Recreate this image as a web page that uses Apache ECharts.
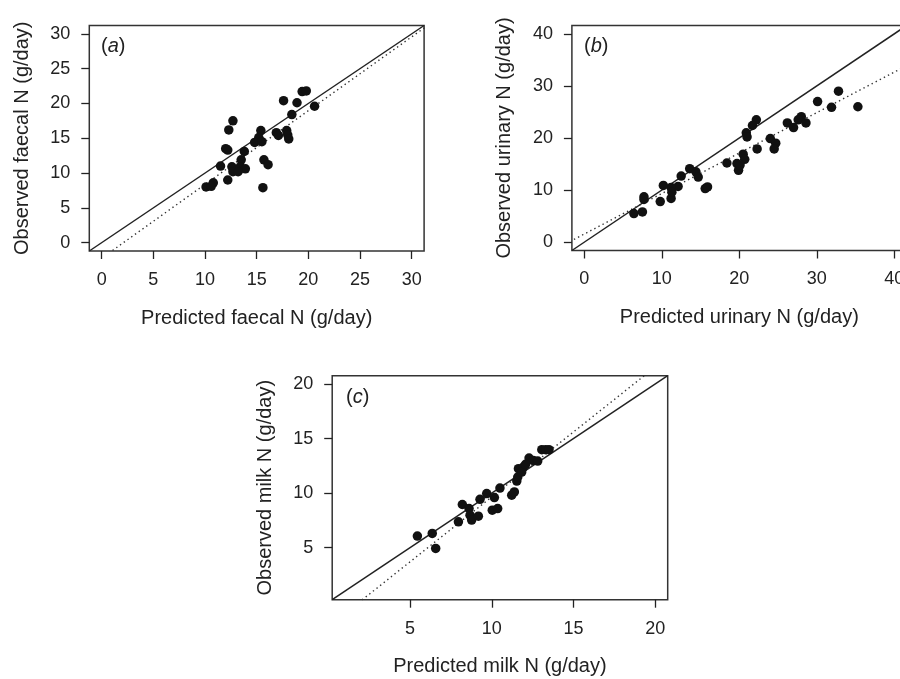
<!DOCTYPE html>
<html>
<head>
<meta charset="utf-8">
<script src="https://cdn.jsdelivr.net/npm/echarts@6/dist/echarts.min.js"></script>
<style>html,body{margin:0;padding:0;background:#fff;}#c{width:900px;height:679px;}</style>
</head>
<body>
<div id="c"></div>
<script>
// ---- Data ----
const faecalPred = [19.4,19.8,17.6,18.9,20.6,18.4,12.7,12.3,15.4,16.9,17.1,17.9,18.0,18.1,15.2,14.8,15.5,12.0,12.2,13.8,13.5,15.7,16.1,11.5,12.6,12.7,13.4,13.9,13.2,12.2,10.8,10.1,10.6,15.6];
const faecalObs  = [21.7,21.8,20.4,20.1,19.6,18.4,17.5,16.2,16.1,15.8,15.4,16.1,15.5,14.9,15.1,14.4,14.5,13.5,13.3,13.1,11.9,11.9,11.2,11.0,10.9,10.2,10.9,10.6,10.2,9.0,8.6,8.0,8.1,7.9];

const urinaryPred = [32.8,30.1,31.9,35.3,26.2,27.0,28.0,27.6,28.6,22.2,21.7,20.9,21.0,24.0,24.7,24.5,22.3,20.5,20.7,19.7,18.4,19.9,20.1,13.6,14.4,14.7,12.5,12.1,11.2,10.2,11.2,9.8,7.7,7.7,6.4,7.5,15.6,15.9,11.3];
const urinaryObs  = [29.0,27.0,25.9,26.0,22.9,22.0,24.1,23.5,22.9,23.5,22.4,21.0,20.2,19.9,19.0,17.9,17.9,16.9,15.9,15.1,15.2,13.8,14.8,14.1,13.5,12.5,12.7,10.7,10.5,10.9,8.4,7.8,8.7,8.2,5.5,5.8,10.3,10.6,9.6];

const milkPred = [5.45,6.36,6.57,7.96,8.2,8.61,8.67,8.77,9.18,9.28,9.69,10.16,10.5,10.03,10.36,11.22,11.38,11.53,11.59,11.63,11.93,11.83,12.28,12.54,12.81,13.06,13.3,13.5,12.07];
const milkObs  = [6.07,6.31,4.94,7.37,8.96,8.59,7.98,7.53,7.89,9.44,9.96,9.6,10.47,8.44,8.59,9.81,10.11,11.11,11.48,12.24,12.39,11.93,13.21,13.0,12.94,13.98,13.98,13.98,12.64];

// regression (dotted) lines: [intercept, slope]
const faecalFit  = [-2.23, 1.06];
const urinaryFit = [1.57, 0.777];
const milkFit    = [-2.24, 1.19];

// axis ranges and tick labels
const faecalRange = [-1.2, 31.2];
const urinaryRange = [-1.6, 41.6];
const milkRange = [0.24, 20.76];
const faecalTicks = [0,5,10,15,20,25,30];
const urinaryTicks = [0,10,20,30,40];
const milkTicks = [5,10,15,20];

const panelLabels = ['a','b','c'];
const xNames = ['Predicted faecal N (g/day)','Predicted urinary N (g/day)','Predicted milk N (g/day)'];
const yNames = ['Observed faecal N (g/day)','Observed urinary N (g/day)','Observed milk N (g/day)'];

// ---- Build ----
const FONT = "'Liberation Sans', Arial, Helvetica, sans-serif";
const INK = '#222';
const panels = [
  {px: faecalPred, py: faecalObs, fit: faecalFit, range: faecalRange, ticks: faecalTicks},
  {px: urinaryPred, py: urinaryObs, fit: urinaryFit, range: urinaryRange, ticks: urinaryTicks},
  {px: milkPred, py: milkObs, fit: milkFit, range: milkRange, ticks: milkTicks}
];
const grids = [
  {left: 89.3, top: 25.5, width: 334.8, height: 225.5},
  {left: 571.9, top: 25.5, width: 334.8, height: 225},
  {left: 332.2, top: 375.7, width: 335.5, height: 224}
];
const labelPos = [[101, 36], [584, 36], [346, 387]];

function axis(gi, p, name, isX) {
  return {
    type: 'value', gridIndex: gi, min: p.range[0], max: p.range[1],
    name: name, nameLocation: 'middle', nameGap: 57,
    nameTextStyle: {fontFamily: FONT, fontSize: 20, color: INK},
    axisLine: {show: false, onZero: false},
    splitLine: {show: false},
    axisTick: {show: true, inside: false, length: 8, customValues: p.ticks, lineStyle: {color: INK, width: 1.3}},
    axisLabel: {show: true, customValues: p.ticks, margin: isX ? 20 : 19, fontFamily: FONT, fontSize: 18, color: INK,
      hideOverlap: false, showMinLabel: true, showMaxLabel: true}
  };
}

const xAxis = [], yAxis = [], series = [], title = [];
panels.forEach((p, i) => {
  xAxis.push(axis(i, p, xNames[i], true));
  yAxis.push(axis(i, p, yNames[i], false));
  const pts = p.px.map((x, k) => [x, p.py[k]]);
  series.push({type: 'scatter', xAxisIndex: i, yAxisIndex: i, data: pts, symbol: 'circle', symbolSize: 9.5,
    itemStyle: {color: '#111', opacity: 1}, silent: true, z: 3});
  const r = p.range;
  series.push({type: 'line', xAxisIndex: i, yAxisIndex: i, data: [[r[0], r[0]], [r[1], r[1]]],
    symbol: 'none', clip: true, silent: true, lineStyle: {color: INK, width: 1.5, type: 'solid'}, z: 2});
  series.push({type: 'line', xAxisIndex: i, yAxisIndex: i,
    data: [[r[0] - 5, p.fit[0] + p.fit[1] * (r[0] - 5)], [r[1] + 5, p.fit[0] + p.fit[1] * (r[1] + 5)]],
    symbol: 'none', clip: true, silent: true, lineStyle: {color: '#333', width: 1.4, type: [1.4, 3.2]}, z: 2});
  title.push({text: '{n|(}{i|' + panelLabels[i] + '}{n|)}', left: labelPos[i][0], top: labelPos[i][1], padding: 0,
    textStyle: {fontWeight: 'normal', rich: {
      n: {fontFamily: FONT, fontSize: 20, fontWeight: 'normal', color: INK},
      i: {fontFamily: FONT, fontSize: 20, fontWeight: 'normal', fontStyle: 'italic', color: INK}}}});
});

const chart = echarts.init(document.getElementById('c'), null, {renderer: 'canvas'});
chart.setOption({
  backgroundColor: '#fff',
  animation: false,
  title: title,
  grid: grids.map(g => Object.assign({show: true, borderColor: '#333', borderWidth: 1.5, backgroundColor: 'transparent',
    containLabel: false, outerBoundsMode: 'none'}, g)),
  xAxis: xAxis,
  yAxis: yAxis,
  series: series
});
</script>
</body>
</html>
